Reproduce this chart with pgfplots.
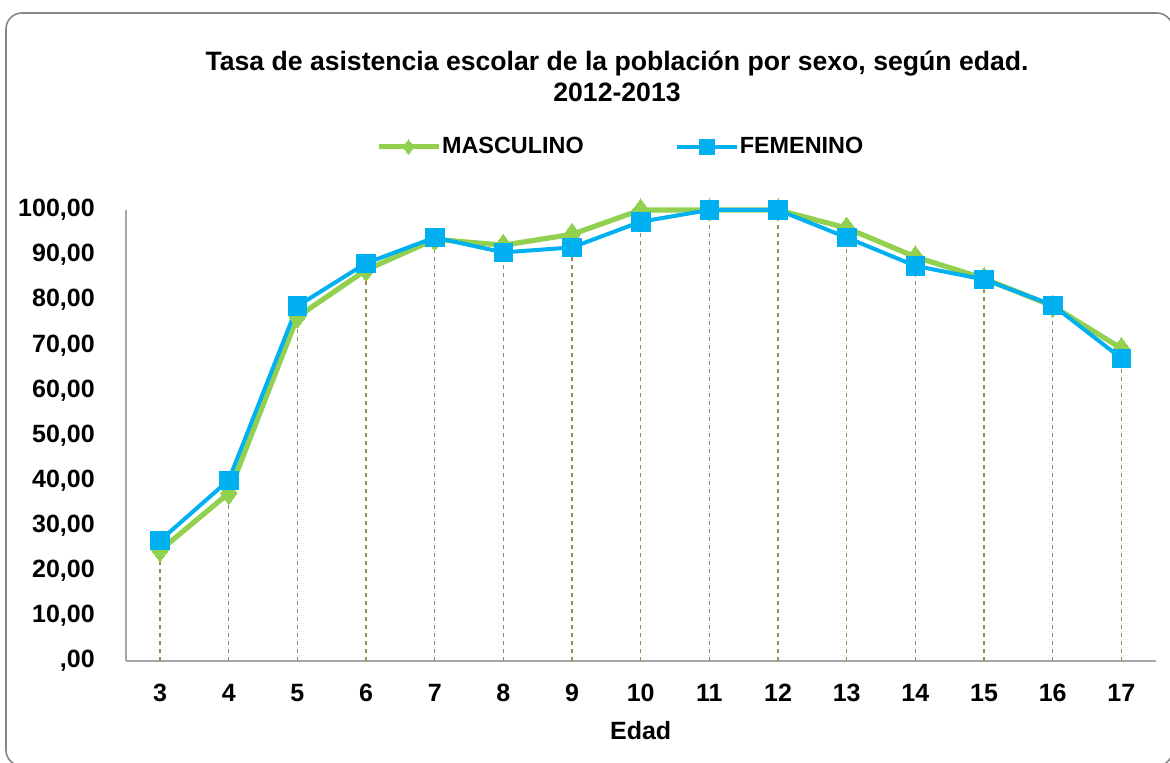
\documentclass[border=0pt]{standalone}
\usepackage{fontspec}
\setmainfont{Liberation Sans}
\usepackage{pgfplots}
\pgfplotsset{compat=1.18}
\definecolor{mgreen}{HTML}{92D050}
\definecolor{fblue}{HTML}{00B0F0}
\definecolor{dropc}{HTML}{9C8A50}
\definecolor{framec}{HTML}{878787}
\definecolor{axisc}{HTML}{A6A6A6}
\begin{document}
\begin{tikzpicture}[x=1pt,y=1pt]
\useasboundingbox (-62.85,-51) rectangle (522.15,330.5);
\draw[framec, line width=0.8pt, rounded corners=8pt] (-59.85,-52.5) rectangle (523.5,324);
\begin{axis}[
  scale only axis, width=515pt, height=225.5pt,
  at={(0pt,0pt)}, anchor=south west,
  xmin=2.5, xmax=17.5, ymin=0, ymax=100,
  clip=false,
  axis lines=left,
  axis line style={-, draw=axisc, line width=0.8pt},
  xtick={3,...,17},
  ytick={0,10,...,100},
  yticklabels={{,00},{10,00},{20,00},{30,00},{40,00},{50,00},{60,00},{70,00},{80,00},{90,00},{100,00}},
  major tick length=0pt,
  /pgf/number format/assume math mode=true,
  tick label style={font=\fontsize{12.5}{14}\selectfont\bfseries},
  xticklabel style={anchor=center, yshift=-16pt},
  yticklabel style={anchor=east, inner sep=0pt, xshift=-15.3pt},
  xlabel={Edad},
  xlabel style={at={(axis description cs:0.5,-0.155)}, anchor=center, font=\fontsize{12.5}{14}\selectfont\bfseries},
  title={Tasa de asistencia escolar de la población por sexo, según edad.\\2012-2013},
  title style={at={(axis description cs:0.477,1.27)}, anchor=center, align=center, font=\fontsize{13.3}{15.5}\selectfont\bfseries},
  legend style={at={(axis description cs:0.48,1.14)}, anchor=center, draw=none, fill=none,
    font=\fontsize{11.7}{14}\selectfont\bfseries,
    /tikz/every even column/.append style={column sep=45pt},
    nodes={inner sep=0.5pt}},
  legend columns=2,
  legend image code/.code={\draw[mark repeat=2,mark phase=2,#1,mark size=3.6pt] plot coordinates {(0pt,0pt) (15pt,0pt) (30pt,0pt)};},
]
\addplot[dropc, line width=0.6pt, dash pattern=on 2pt off 2pt, ycomb, forget plot] coordinates {
(3,26.7) (4,40.1) (5,78.7) (6,88.2) (7,93.9) (8,92.2) (9,94.6) (10,100) (11,100) (12,100) (13,96.0) (14,89.6) (15,84.8) (16,78.9) (17,69.3)};
\addplot[mgreen, line width=2.6pt, mark=diamond*, mark size=5.5pt, mark options={solid, fill=mgreen, draw=mgreen, line width=0pt}] coordinates {
(3,24.5) (4,37.2) (5,76.3) (6,86.7) (7,93.5) (8,92.2) (9,94.6) (10,100) (11,100) (12,100) (13,96.0) (14,89.6) (15,84.8) (16,78.7) (17,69.3)};
\addlegendentry{MASCULINO}
\addplot[fblue, line width=2pt, mark=square*, mark size=4.6pt, mark options={solid, fill=fblue, draw=fblue, line width=0.4pt}] coordinates {
(3,26.7) (4,40.1) (5,78.7) (6,88.2) (7,93.9) (8,90.6) (9,91.7) (10,97.4) (11,100) (12,100) (13,93.9) (14,87.6) (15,84.6) (16,78.9) (17,67.1)};
\addlegendentry{FEMENINO}
\end{axis}
\end{tikzpicture}
\end{document}
